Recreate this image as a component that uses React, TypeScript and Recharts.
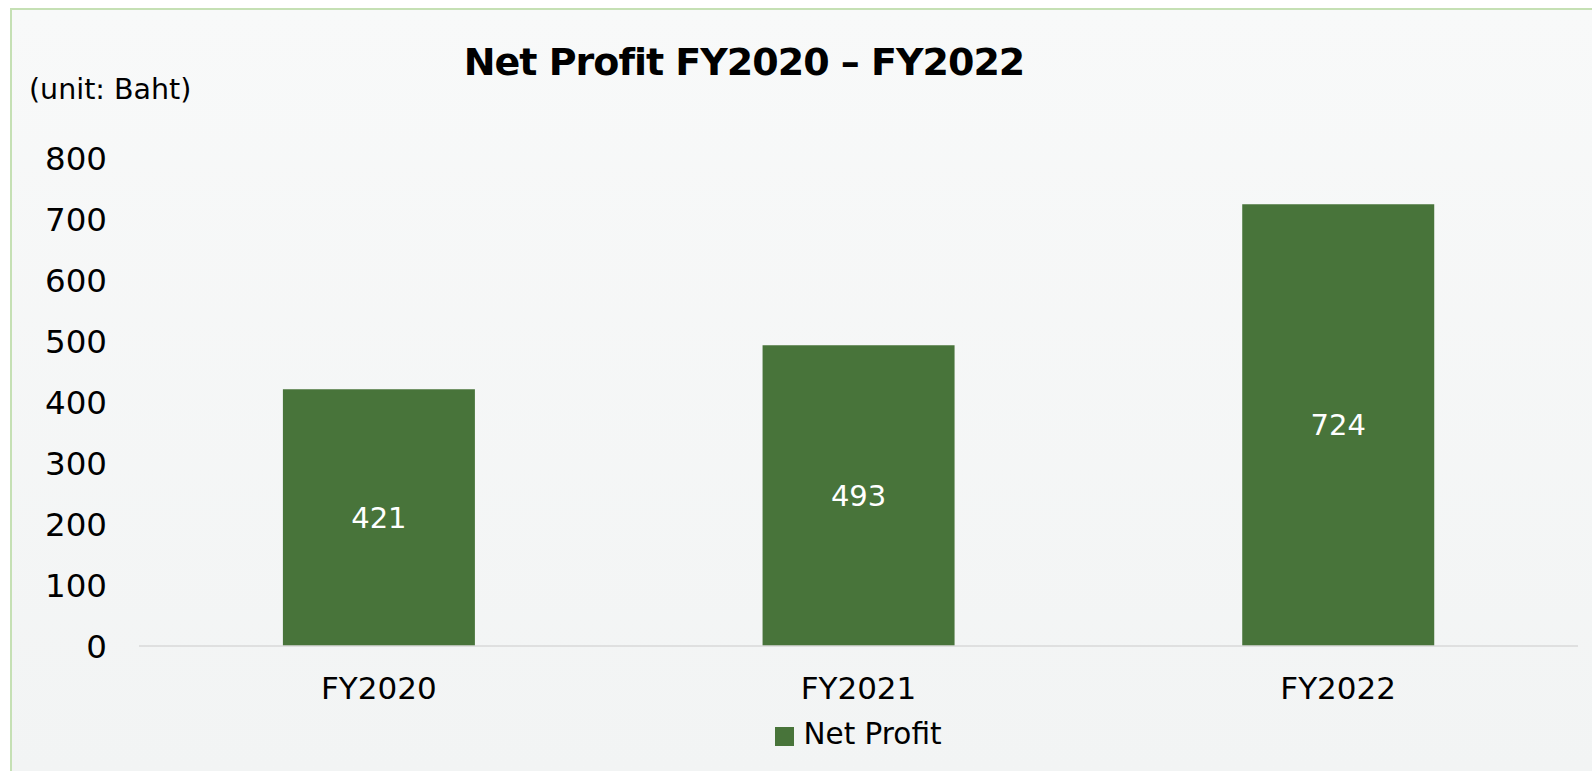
import { BarChart, Bar, XAxis, YAxis, Legend, LabelList } from 'recharts';

const years = ['FY2020', 'FY2021', 'FY2022'];
const netProfit = [421, 493, 724];
const yTicks = [0, 100, 200, 300, 400, 500, 600, 700, 800];

const GREEN = '#48743a';
const FONT = '"DejaVu Sans", sans-serif';

const chartData = years.map((year, i) => ({ year, netProfit: netProfit[i] }));

function LegendContent({ payload }: any) {
  return (
    <div
      style={{
        height: 65,
        paddingTop: 14,
        boxSizing: 'border-box',
        display: 'flex',
        justifyContent: 'center',
        fontFamily: FONT,
      }}
    >
      {(payload ?? []).map((p: any) => (
        <div key={p.value} style={{ display: 'flex', alignItems: 'center', height: 29 }}>
          <span style={{ width: 19, height: 19, background: GREEN, marginRight: 9, marginTop: 4 }} />
          <span style={{ fontSize: 29.5, lineHeight: '29px', color: '#000' }}>{p.value}</span>
        </div>
      ))}
    </div>
  );
}

export default function App() {
  return (
    <div
      style={{
        position: 'absolute',
        left: 10,
        top: 8,
        width: 1582,
        height: 763,
        boxSizing: 'border-box',
        borderTop: '2px solid #c5e0b4',
        borderLeft: '2px solid #c5e0b4',
        background: 'linear-gradient(#f8f9f9, #f2f4f4)',
        overflow: 'hidden',
      }}
    >
      <div
        style={{
          position: 'absolute',
          left: 332,
          top: 33,
          width: 800,
          textAlign: 'center',
          fontFamily: FONT,
          fontWeight: 'bold',
          fontSize: 38,
          lineHeight: '38px',
          letterSpacing: -1,
          color: '#000',
        }}
      >
        Net Profit FY2020 – FY2022
      </div>
      <div
        style={{
          position: 'absolute',
          left: 17,
          top: 66,
          fontFamily: FONT,
          fontSize: 28.5,
          lineHeight: '28.5px',
          color: '#000',
        }}
      >
        (unit: Baht)
      </div>
      <BarChart
        width={1580}
        height={761}
        data={chartData}
        margin={{ top: 148, right: 14, left: 0, bottom: 0 }}
        barCategoryGap="30%"
      >
        <XAxis
          dataKey="year"
          height={60}
          tickLine={false}
          tickSize={0}
          tickMargin={31}
          axisLine={{ stroke: '#d9d9d9', strokeWidth: 1.5 }}
          tick={{ fontSize: 31, fill: '#000', fontFamily: FONT }}
        />
        <YAxis
          width={127}
          domain={[0, 800]}
          ticks={yTicks}
          interval={0}
          axisLine={false}
          tickLine={false}
          tickSize={0}
          tickMargin={32}
          tick={{ fontSize: 32.5, fill: '#000', fontFamily: FONT }}
        />
        <Legend
          verticalAlign="bottom"
          content={<LegendContent />}
          wrapperStyle={{ left: 127, width: 1439 }}
        />
        <Bar dataKey="netProfit" name="Net Profit" fill={GREEN} isAnimationActive={false}>
          <LabelList
            dataKey="netProfit"
            position="center"
            fill="#fff"
            style={{ fontSize: 29, fontFamily: FONT }}
          />
        </Bar>
      </BarChart>
    </div>
  );
}
